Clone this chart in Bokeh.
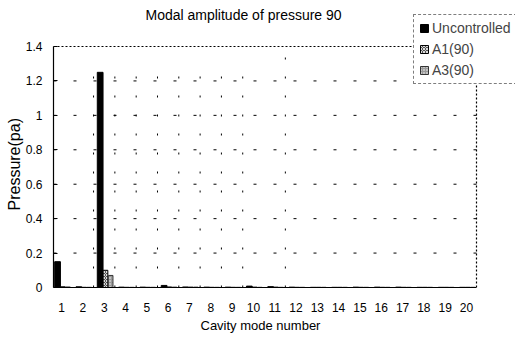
from bokeh.plotting import figure
from bokeh.models import ColumnDataSource, FixedTicker, Legend, LegendItem, Label, Title
from bokeh.embed import file_html
from bokeh.resources import INLINE

modes = list(range(1, 21))
uncontrolled = [0.15, 0.004, 1.25, 0.002, 0.002, 0.012, 0.003, 0.002, 0.002, 0.008,
                0.005, 0.002, 0.001, 0.001, 0.002, 0.002, 0.002, 0.001, 0.001, 0.001]
a1_90 = [0.004, 0.001, 0.10, 0.001, 0.001, 0.003, 0.002, 0.001, 0.001, 0.002,
         0.002, 0.001, 0.001, 0.001, 0.001, 0.001, 0.001, 0.001, 0.001, 0.001]
a3_90 = [0.003, 0.001, 0.07, 0.001, 0.001, 0.002, 0.002, 0.001, 0.001, 0.001,
         0.001, 0.001, 0.001, 0.001, 0.001, 0.001, 0.001, 0.001, 0.001, 0.001]
y_ticks = [0, 0.2, 0.4, 0.6, 0.8, 1.0, 1.2, 1.4]
y_tick_labels = ["0", "0.2", "0.4", "0.6", "0.8", "1", "1.2", "1.4"]
series_names = ["Uncontrolled", "A1(90)", "A3(90)"]
title_text = "Modal amplitude of pressure 90"
x_label = "Cavity mode number"
y_label = "Pressure(pa)"

FONT = "Liberation Sans"

# plotting box (visible part) and extended frame so the legend may overhang
W, H = 515, 340
BOX_L, BOX_R, BOX_T, BOX_B = 53, 476, 46, 287
X0, X1 = 0.62, 20.47
Y0, Y1 = 0.0, 1.4
xs = (BOX_R - BOX_L) / (X1 - X0)
ys = (BOX_B - BOX_T) / (Y1 - Y0)
x_end = X1 + (W - BOX_R) / xs
y_end = Y1 + BOX_T / ys

p = figure(width=W, height=H, output_backend="svg", toolbar_location=None,
           x_range=(X0, x_end), y_range=(Y0, y_end),
           min_border_left=BOX_L, min_border_right=0, min_border_top=0,
           min_border_bottom=H - BOX_B)
p.outline_line_color = None
p.xgrid.visible = False
p.ygrid.visible = False

# grid lines (drawn only inside the visible box)
gy = y_ticks[1:-1]
p.segment(x0=[X0] * len(gy), x1=[X1] * len(gy), y0=gy, y1=gy,
          line_color="black", line_dash="3 17", line_width=1)
gx = [2.5, 3.5, 4.5, 5.5, 6.5, 7.5, 8.5, 9.5]
p.segment(x0=gx, x1=gx, y0=[0] * len(gx), y1=[1.32] * len(gx),
          line_color="black", line_dash="2 17", line_width=1)
p.segment(x0=[11.5], x1=[11.5], y0=[0], y1=[Y1],
          line_color="black", line_dash="2 17", line_width=1)
# dotted top and right border
p.segment(x0=[X0, X1], x1=[X1, X1], y0=[Y1, 0], y1=[Y1, Y1],
          line_color="black", line_dash="2 2", line_width=1.2)

src = ColumnDataSource(dict(
    x=modes,
    xu=[m - 0.19 for m in modes],
    x1=[m + 0.06 for m in modes],
    x3=[m + 0.30 for m in modes],
    u=uncontrolled, a1=a1_90, a3=a3_90))

r_u = p.vbar(x="xu", top="u", width=0.27, source=src, fill_color="black", line_color="black")
r_a1 = p.vbar(x="x1", top="a1", width=0.22, source=src, fill_color="#555555",
              line_color="black", hatch_pattern="x", hatch_color="white", hatch_scale=3, hatch_weight=0.8)
r_a3 = p.vbar(x="x3", top="a3", width=0.22, source=src, fill_color="#999999",
              line_color="#333333", hatch_pattern=".", hatch_color="white", hatch_scale=3)

# title
p.add_layout(Label(x=145 - BOX_L, y=BOX_B - 14, x_units="screen", y_units="screen",
                   text=title_text, text_font=FONT, text_font_size="14px",
                   text_baseline="middle", text_align="left", text_color="black"))

# axes
p.yaxis.bounds = (Y0, Y1)
p.xaxis.bounds = (X0, X1)
p.yaxis.ticker = FixedTicker(ticks=y_ticks)
p.yaxis.major_label_overrides = {t: l for t, l in zip(y_ticks, y_tick_labels)}
p.yaxis.major_tick_in = 4
p.yaxis.major_tick_out = 0
p.yaxis.minor_tick_line_color = None
p.yaxis.major_label_standoff = 11

p.xaxis.ticker = FixedTicker(ticks=modes)
p.xaxis.major_tick_line_color = None
p.xaxis.minor_tick_line_color = None
p.xaxis.major_label_standoff = 9

for ax in (p.xaxis[0], p.yaxis[0]):
    ax.major_label_text_font = FONT
    ax.major_label_text_font_size = "12px"
    ax.major_label_text_color = "black"
    ax.axis_line_color = "black"
    ax.axis_line_width = 1.2

# axis titles placed along the visible box
p.add_layout(Title(text=x_label, align="left", offset=200 - BOX_L, standoff=2,
                   text_font=FONT, text_font_size="13px", text_font_style="normal",
                   text_color="black"), "below")
p.add_layout(Title(text=y_label, align="left", offset=BOX_B - 210, standoff=0,
                   text_font=FONT, text_font_size="16px", text_font_style="normal",
                   text_color="black"), "left")

legend = Legend(items=[LegendItem(label=series_names[0], renderers=[r_u]),
                       LegendItem(label=series_names[1], renderers=[r_a1]),
                       LegendItem(label=series_names[2], renderers=[r_a3])],
                location=(413 - BOX_L, BOX_B - 84))
legend.label_text_font = FONT
legend.label_text_font_size = "14px"
legend.label_height = 16
legend.glyph_width = 10
legend.glyph_height = 10
legend.label_standoff = 3
legend.spacing = 5
legend.padding = 5
legend.margin = 0
legend.border_line_color = "black"
legend.border_line_dash = "2 2"
legend.background_fill_alpha = 1
p.add_layout(legend, "center")

open("out.html", "w").write(file_html(p, INLINE))
